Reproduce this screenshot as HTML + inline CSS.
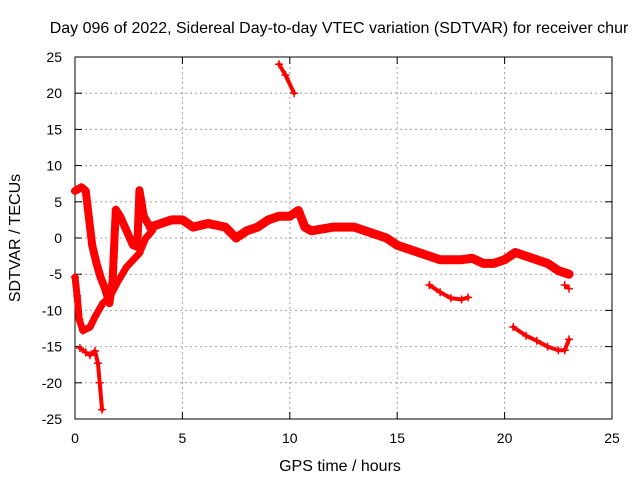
<!DOCTYPE html>
<html><head><meta charset="utf-8"><style>
body{margin:0;background:#fff;}
svg{display:block;font-family:"Liberation Sans",sans-serif;}
</style></head><body>
<svg id="chart" width="640" height="480" viewBox="0 0 640 480">
<rect width="640" height="480" fill="#fff"/>
<text x="339" y="33" font-size="16" text-anchor="middle" fill="#000">Day 096 of 2022, Sidereal Day-to-day VTEC variation (SDTVAR) for receiver chur</text>
<g id="grid"></g><g id="axes"></g><g id="series"></g>
<text x="340" y="471" font-size="16" text-anchor="middle">GPS time / hours</text>
<text x="20" y="238" font-size="16" text-anchor="middle" transform="rotate(-90 20 238)">SDTVAR / TECUs</text>
</svg>
<script>
const xTicks=[0,5,10,15,20,25];
const yTicks=[25,20,15,10,5,0,-5,-10,-15,-20,-25];
const segUpperStart=[[0,6.5],[0.3,7],[0.5,6.5],[0.6,4],[0.8,-1],[1.0,-3.5],[1.2,-5.5],[1.4,-7],[1.6,-9],[1.75,-6],[1.8,-2.6],[1.9,3.9],[2.1,3],[2.4,1],[2.7,-1],[2.9,-1.2],[3.0,6.6],[3.2,3],[3.5,1.5]];
const segLowerStart=[[0,-5.4],[0.1,-8],[0.2,-11.3],[0.37,-12.8],[0.7,-12.3],[0.93,-10.9],[1.3,-9],[1.63,-8.1],[2.0,-6],[2.4,-4],[3.0,-2.1],[3.3,0],[3.6,1]];
const segDrop=[[0.23,-15.2],[0.5,-15.8],[0.7,-16.2],[0.93,-15.6],[1.07,-17.3],[1.15,-20],[1.26,-23.7]];
const segMain=[[3.5,1.5],[4,2],[4.5,2.5],[5,2.5],[5.5,1.5],[6.2,2],[7,1.5],[7.5,0],[8,1],[8.5,1.5],[9,2.5],[9.5,3],[10,3],[10.4,3.8],[10.7,1.5],[11,1],[12,1.5],[13,1.5],[14,0.5],[14.5,0],[15,-1],[15.5,-1.5],[16,-2],[16.5,-2.5],[17,-3],[18,-3],[18.5,-2.8],[19,-3.5],[19.5,-3.5],[20,-3],[20.5,-2],[21,-2.5],[21.5,-3],[22,-3.5],[22.5,-4.5],[23,-5]];
const segTop=[[9.5,24],[9.8,22.5],[10.2,20]];
const segMid=[[16.5,-6.5],[17,-7.5],[17.5,-8.3],[18,-8.5],[18.3,-8.2]];
const segLow=[[20.4,-12.3],[21,-13.5],[21.5,-14.2],[22,-15],[22.5,-15.5],[22.8,-15.5],[23,-14]];
const segEnd=[[22.8,-6.5],[23,-7]];
const series=[[segUpperStart,8],[segLowerStart,7],[segDrop,4],[segMain,9],[segTop,4],[segMid,4],[segLow,4],[segEnd,3]];
const X=t=>75+t*(612-75)/25, Y=v=>238-v*(419-57)/50;
const NS="http://www.w3.org/2000/svg";
function mk(tag,attrs,parent){const e=document.createElementNS(NS,tag);for(const k in attrs)e.setAttribute(k,attrs[k]);parent.appendChild(e);return e;}
const grid=document.getElementById('grid'),axes=document.getElementById('axes'),ser=document.getElementById('series');
xTicks.forEach(t=>{
 if(t>0&&t<25){const g=mk('line',{x1:X(t),x2:X(t),y1:57,y2:419,stroke:'#a0a0a0','stroke-dasharray':'2,3'},grid);
 
 }
 mk('line',{x1:X(t),x2:X(t),y1:419,y2:412,stroke:'#000'},axes);
 mk('line',{x1:X(t),x2:X(t),y1:57,y2:64,stroke:'#000'},axes);
 const l=mk('text',{x:X(t),y:443,'font-size':14,'text-anchor':'middle'},axes);l.textContent=t;
 
 
});
yTicks.forEach(v=>{
 if(v>-25&&v<25){const g=mk('line',{x1:75,x2:612,y1:Y(v),y2:Y(v),stroke:'#a0a0a0','stroke-dasharray':'2,3'},grid);
 
 }
 mk('line',{x1:75,x2:82,y1:Y(v),y2:Y(v),stroke:'#000'},axes);
 mk('line',{x1:612,x2:605,y1:Y(v),y2:Y(v),stroke:'#000'},axes);
 const l=mk('text',{x:62,y:Y(v)+5,'font-size':14,'text-anchor':'end'},axes);l.textContent=v;
 
 
});
const fr=mk('rect',{x:75,y:57,width:537,height:362,fill:'none',stroke:'#000'},axes);


series.forEach(([pts,w])=>{
 const p=mk('polyline',{points:pts.map(d=>X(d[0])+','+Y(d[1])).join(' '),fill:'none',stroke:'#f00','stroke-width':w,'stroke-linejoin':'round','stroke-linecap':'round'},ser);
 
 
 pts.forEach(d=>{
  const m=mk('path',{d:`M${X(d[0])-4},${Y(d[1])}h8M${X(d[0])},${Y(d[1])-4}v8`,stroke:'#f00','stroke-width':1.5},ser);
  
  
 });
});
</script>
</body></html>
